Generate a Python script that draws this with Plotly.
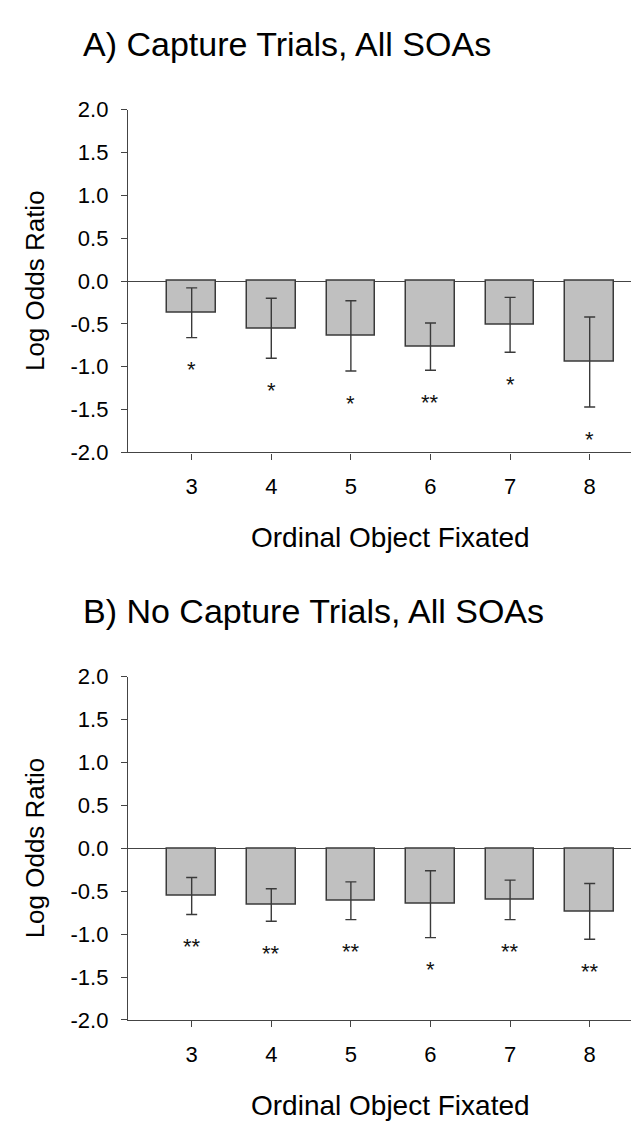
import plotly.graph_objects as go

W, H = 639, 1125
ML = 120  # left margin in px

categories = [3, 4, 5, 6, 7, 8]
tick_labels = ["3", "4", "5", "6", "7", "8"]

a_means = [-0.37, -0.55, -0.64, -0.765, -0.51, -0.945]
a_errors = [0.29, 0.35, 0.41, 0.275, 0.32, 0.525]
a_sig = ["*", "*", "*", "**", "*", "*"]

b_means = [-0.555, -0.66, -0.61, -0.65, -0.60, -0.735]
b_errors = [0.215, 0.19, 0.22, 0.39, 0.23, 0.325]
b_sig = ["**", "**", "**", "*", "**", "**"]

y_ticks = [-2.0, -1.5, -1.0, -0.5, 0.0, 0.5, 1.0, 1.5, 2.0]
y_tick_labels = ["-2.0", "-1.5", "-1.0", "-0.5", "0.0", "0.5", "1.0", "1.5", "2.0"]

panel_titles = ["A) Capture Trials, All SOAs", "B) No Capture Trials, All SOAs"]
x_title = "Ordinal Object Fixated"
y_title = "Log Odds Ratio"

FONT = "Liberation Sans, Arial, sans-serif"
PW = W - ML


def px_x(px):
    return (px - ML) / PW


def px_y(py):
    return 1 - py / H


# pixel layout of the two panels (top, bottom of plot area)
panels = [(91.7, 442.3), (671.7, 1022.7)]

fig = go.Figure()
series = [(a_means, a_errors, a_sig), (b_means, b_errors, b_sig)]

annotations = []
for i, ((means, errs, sig), (top, bot)) in enumerate(zip(series, panels)):
    xa = "x" if i == 0 else "x2"
    ya = "y" if i == 0 else "y2"
    fig.add_trace(go.Bar(
        x=categories, y=means, width=0.61,
        marker=dict(color="#c0c0c0", line=dict(color="#3a3a3a", width=1.5)),
        error_y=dict(type="data", array=errs, visible=True, color="#3a3a3a",
                     thickness=1.4, width=5.5),
        xaxis=xa, yaxis=ya, showlegend=False, hoverinfo="skip",
    ))
    for c, m, e, s in zip(categories, means, errs, sig):
        annotations.append(dict(
            x=c, y=m - e, xref=xa, yref=ya, text=s, showarrow=False,
            yanchor="middle", xanchor="center", yshift=-32,
            font=dict(family=FONT, size=22, color="#111"),
        ))
    # panel title
    annotations.append(dict(
        x=px_x(73), y=px_y(top - 67), xref="paper", yref="paper",
        text=panel_titles[i], showarrow=False, xanchor="left", yanchor="middle",
        font=dict(family=FONT, size=34, color="#000"),
    ))
    # x axis title
    annotations.append(dict(
        x=px_x(382), y=px_y(bot + 87), xref="paper", yref="paper",
        text=x_title, showarrow=False, xanchor="center", yanchor="middle",
        font=dict(family=FONT, size=28, color="#000"),
    ))
    # y axis title
    annotations.append(dict(
        x=px_x(27), y=px_y((top + bot) / 2), xref="paper", yref="paper",
        text=y_title, showarrow=False, xanchor="center", yanchor="middle",
        textangle=-90, font=dict(family=FONT, size=26, color="#000"),
    ))

axis_common = dict(showgrid=False, showline=True, linecolor="#444", linewidth=1.3,
                   ticks="outside", ticklen=6, tickwidth=1.3, tickcolor="#444",
                   tickfont=dict(family=FONT, size=22, color="#000"))

layout = dict(
    width=W, height=H,
    margin=dict(l=ML, r=0, t=0, b=0, pad=0),
    plot_bgcolor="white", paper_bgcolor="white",
    annotations=annotations,
    bargap=0,
)
for i, (top, bot) in enumerate(panels):
    sx = "" if i == 0 else "2"
    layout["xaxis" + sx] = dict(
        axis_common, domain=[0, 1], range=[2.2, 8.72], anchor="y" + sx,
        tickvals=categories, ticktext=tick_labels, zeroline=False,
        ticklabelstandoff=8,
    )
    layout["yaxis" + sx] = dict(
        axis_common, domain=[px_y(bot), px_y(top)], range=[-2.0, 2.0],
        anchor="x" + sx, tickvals=y_ticks, ticktext=y_tick_labels,
        zeroline=True, zerolinecolor="#444", zerolinewidth=1.3,
        ticklabelstandoff=8,
    )

fig.update_layout(**layout)
fig.write_html("out.html")
